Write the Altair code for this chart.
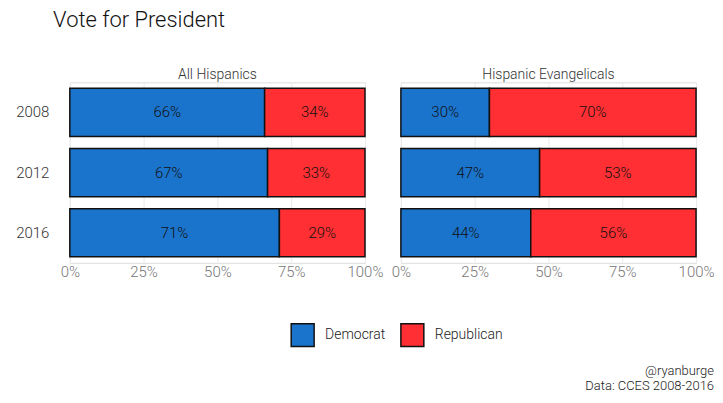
import altair as alt
import pandas as pd

years = ["2008", "2012", "2016"]
groups = ["All Hispanics", "Hispanic Evangelicals"]
dem_all = [66, 67, 71]
rep_all = [34, 33, 29]
dem_ev = [30, 47, 44]
rep_ev = [70, 53, 56]
parties = ["Democrat", "Republican"]
colors = ["#1B74CC", "#FF2F33"]
caption = ["@ryanburge", "Data: CCES 2008-2016"]

rows = []
for g, dem, rep in [(groups[0], dem_all, rep_all), (groups[1], dem_ev, rep_ev)]:
    for i, y in enumerate(years):
        rows.append({"group": g, "year": y, "party": "Democrat", "v": dem[i]})
        rows.append({"group": g, "year": y, "party": "Republican", "v": rep[i]})
df = pd.DataFrame(rows)

FONT = "Roboto, sans-serif"
FW = 300
grid_vals = [0, 0.125, 0.25, 0.375, 0.5, 0.625, 0.75, 0.875, 1.0]


def panel(g, show_y, with_caption):
    base = alt.Chart(df).transform_filter(
        alt.datum.group == g
    ).transform_stack(
        stack="v", as_=["v0", "v1"], groupby=["year"],
        sort=[alt.SortField("party", order="ascending")]
    ).transform_calculate(
        x0="datum.v0/100", x1="datum.v1/100", xm="(datum.v0+datum.v1)/200",
        lab="datum.v + '%'"
    )
    yenc = alt.Y(
        "year:N", sort=years, title=None,
        scale=alt.Scale(paddingInner=0.2, paddingOuter=0.1),
        axis=alt.Axis(labelPadding=21, ticks=False, domain=False, labelFontSize=15,
                      labelColor="#333333", labelFont=FONT, labelFontWeight=FW) if show_y else None,
    )
    bars = base.mark_bar(stroke="#111111", strokeWidth=1.5).encode(
        x=alt.X("x0:Q", scale=alt.Scale(domain=[0, 1], nice=False), title=None,
                axis=alt.Axis(values=grid_vals, format=".0%",
                              labelExpr="(datum.value*100) % 25 == 0 ? format(datum.value, '.0%') : ''",
                              ticks=False, domain=False, grid=True, gridColor="#ebebeb",
                              labelFontSize=15, labelColor="#777777", labelPadding=2,
                              labelFont=FONT, labelFontWeight=FW, labelFlush=False)),
        x2="x1:Q",
        y=yenc,
        color=alt.Color("party:N", scale=alt.Scale(domain=parties, range=colors),
                        legend=alt.Legend(title=None, orient="none", direction="horizontal",
                                          legendX=221, legendY=241,
                                          symbolType="square", symbolSize=529,
                                          symbolStrokeColor="#111111", symbolStrokeWidth=1.5,
                                          labelFontSize=14, labelFont=FONT, labelFontWeight=FW,
                                          labelColor="#222222",
                                          columnPadding=12, labelOffset=10)),
    )
    text = base.mark_text(fontSize=15, font=FONT, fontWeight=FW, color="#111111").encode(
        x="xm:Q",
        y=alt.Y("year:N", sort=years),
        text="lab:N",
    )
    layers = [bars, text]
    if with_caption:
        cap = alt.Chart(pd.DataFrame({"c": [0]})).mark_text(
            text=caption, align="right", baseline="middle", fontSize=13, font=FONT,
            fontWeight=FW, color="#222222", lineHeight=16
        ).encode(x=alt.value(314), y=alt.value(289))
        layers.append(cap)
    return alt.layer(*layers).properties(
        width=296, height=181,
        title=alt.TitleParams(g, fontSize=14, font=FONT, color="#333333",
                              fontWeight=FW, offset=0),
    )


chart = alt.hconcat(panel(groups[0], True, False), panel(groups[1], False, True),
                    spacing=36, bounds="flush").properties(
    title=alt.TitleParams("Vote for President", fontSize=22, font=FONT, fontWeight=FW,
                          color="#111111", anchor="start", offset=36, dx=38),
    padding={"left": 7, "top": 0, "right": 0, "bottom": 0},
).configure_view(stroke=None).configure(background="white")

chart.save("out.html", embed_options={"renderer": "svg", "actions": False})
